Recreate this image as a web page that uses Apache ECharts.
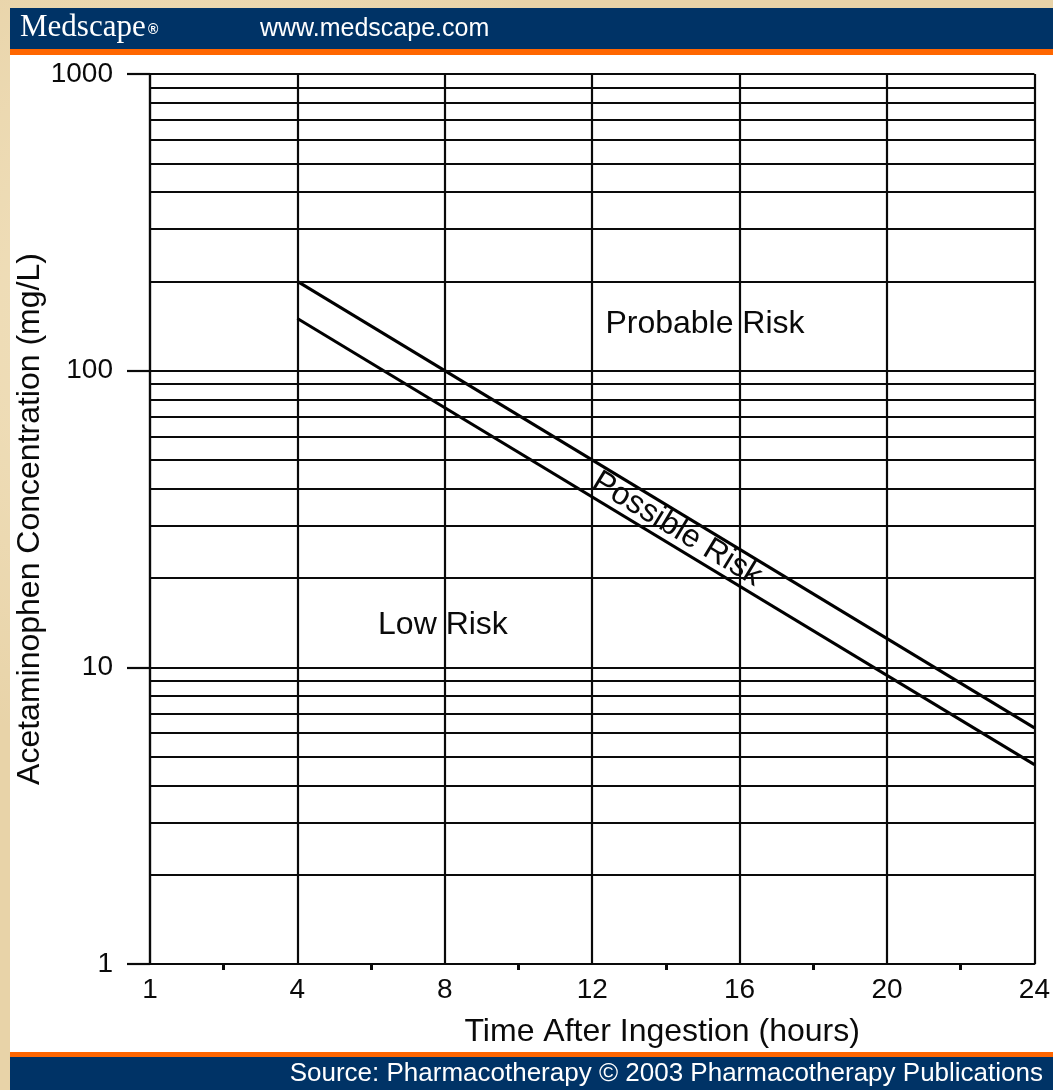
<!DOCTYPE html>
<html>
<head>
<meta charset="utf-8">
<script src="https://cdn.jsdelivr.net/npm/echarts@6/dist/echarts.min.js"></script>
<style>
html,body{margin:0;padding:0;background:#e8d3a8;}
body{background-image:radial-gradient(circle at 20% 30%, rgba(255,245,220,0.5) 0, rgba(255,245,220,0) 40%),radial-gradient(circle at 70% 80%, rgba(200,170,120,0.35) 0, rgba(200,170,120,0) 45%);}
#chart{width:1053px;height:1090px;}
</style>
</head>
<body>
<div id="chart"></div>
<script>
// ---- data ----
const hourLabels = {0: '1', 4: '4', 8: '8', 12: '12', 16: '16', 20: '20', 24: '24'};
const lineTimes = [4, 24];
const probableLine = [200, 6.25];
const possibleLine = [150, 4.7];
const concentrationGrid = [
  1, 2, 3, 4, 5, 6, 7, 8, 9,
  10, 20, 30, 40, 50, 60, 70, 80, 90,
  100, 200, 300, 400, 500, 600, 700, 800, 900,
  1000
];
const regionNames = ['Probable Risk', 'Possible Risk', 'Low Risk'];
const regionTimes = [15.06, 14.3, 7.95];
const regionLevels = [144, 29.2, 13.9];
const regionAngles = [0, -31.2, 0];

const FONT = '"Liberation Sans", Arial, Helvetica, sans-serif';
const INK = '#0a0a0a';
const chart = echarts.init(document.getElementById('chart'), null, {renderer: 'canvas'});

const option = {
  backgroundColor: 'transparent',
  animation: false,
  grid: {left: 150, right: 18, top: 74, bottom: 126, containLabel: false},
  xAxis: {
    type: 'value',
    min: 0,
    max: 24,
    interval: 4,
    name: 'Time After Ingestion (hours)',
    nameLocation: 'middle',
    nameGap: 52,
    nameMoveOverlap: false,
    nameTextStyle: {fontFamily: FONT, fontSize: 32, color: INK, padding: [0, 0, 0, 140]},
    axisLine: {show: true, lineStyle: {color: INK, width: 2.2}},
    axisTick: {show: false},
    minorTick: {show: true, splitNumber: 2, length: 6, lineStyle: {color: INK, width: 3}},
    minorSplitLine: {show: false},
    splitLine: {show: true, lineStyle: {color: INK, width: 2.2}},
    axisLabel: {
      show: true, margin: 12, fontFamily: FONT, fontSize: 28, color: INK,
      showMinLabel: true, showMaxLabel: true,
      formatter: v => (hourLabels[v] !== undefined ? hourLabels[v] : '')
    }
  },
  yAxis: {
    type: 'log',
    logBase: 10,
    min: 1,
    max: 1000,
    splitNumber: 3,
    name: 'Acetaminophen Concentration (mg/L)',
    nameLocation: 'middle',
    nameGap: 104,
    nameMoveOverlap: false,
    nameTextStyle: {fontFamily: FONT, fontSize: 32, color: INK},
    axisLine: {show: true, lineStyle: {color: INK, width: 2.2}},
    axisTick: {show: true, length: 23, lineStyle: {color: INK, width: 2.2}},
    splitLine: {show: false},
    axisLabel: {
      margin: 37, fontFamily: FONT, fontSize: 28, color: INK,
      showMinLabel: true, showMaxLabel: true,
      formatter: v => String(Math.round(v))
    }
  },
  graphic: [
    {type: 'rect', z: -10, shape: {x: 10, y: 55, width: 1043, height: 997}, style: {fill: '#ffffff'}},
    {type: 'rect', z: -10, shape: {x: 10, y: 8, width: 1043, height: 41}, style: {fill: '#003366'}},
    {type: 'rect', z: -10, shape: {x: 10, y: 49, width: 1043, height: 6}, style: {fill: '#ff6600'}},
    {type: 'rect', z: -10, shape: {x: 10, y: 1052, width: 1043, height: 5}, style: {fill: '#ff6600'}},
    {type: 'rect', z: -10, shape: {x: 10, y: 1057, width: 1043, height: 33}, style: {fill: '#003366'}},
    {type: 'text', z: 10, style: {text: 'Medscape', x: 20, y: 28, fill: '#ffffff',
      font: '31px "Liberation Serif", "Times New Roman", serif', textVerticalAlign: 'middle'}},
    {type: 'text', z: 10, style: {text: '®', x: 148, y: 30, fill: '#ffffff',
      font: 'bold 14px "Liberation Sans", Arial, sans-serif', textVerticalAlign: 'middle'}},
    {type: 'text', z: 10, style: {text: 'www.medscape.com', x: 260, y: 29, fill: '#ffffff',
      font: '25px ' + FONT, textVerticalAlign: 'middle'}},
    {type: 'text', z: 10, style: {text: 'Source: Pharmacotherapy © 2003 Pharmacotherapy Publications',
      x: 1043, y: 1074, fill: '#ffffff', font: '26px ' + FONT, textAlign: 'right', textVerticalAlign: 'middle'}}
  ],
  series: [
    {
      type: 'line',
      name: 'Probable',
      data: lineTimes.map((t, i) => [t, probableLine[i]]),
      symbol: 'none',
      lineStyle: {color: '#000', width: 3},
      silent: true,
      markLine: {
        silent: true,
        symbol: ['none', 'none'],
        label: {show: false},
        lineStyle: {color: INK, width: 2.2, type: 'solid', opacity: 1},
        emphasis: {disabled: true},
        data: concentrationGrid.map(v => ({yAxis: v}))
      }
    },
    {
      type: 'line',
      name: 'Possible',
      data: lineTimes.map((t, i) => [t, possibleLine[i]]),
      symbol: 'none',
      lineStyle: {color: '#000', width: 3},
      silent: true
    },
    {
      type: 'scatter',
      symbolSize: 0,
      silent: true,
      z: 5,
      itemStyle: {opacity: 1},
      data: regionNames.map((n, i) => ({
        name: n,
        value: [regionTimes[i], regionLevels[i]],
        label: {rotate: regionAngles[i]}
      })),
      label: {
        show: true, position: 'inside', formatter: p => p.name, opacity: 1,
        fontFamily: FONT, fontSize: 32, color: INK
      }
    }
  ]
};
chart.setOption(option);
</script>
</body>
</html>
